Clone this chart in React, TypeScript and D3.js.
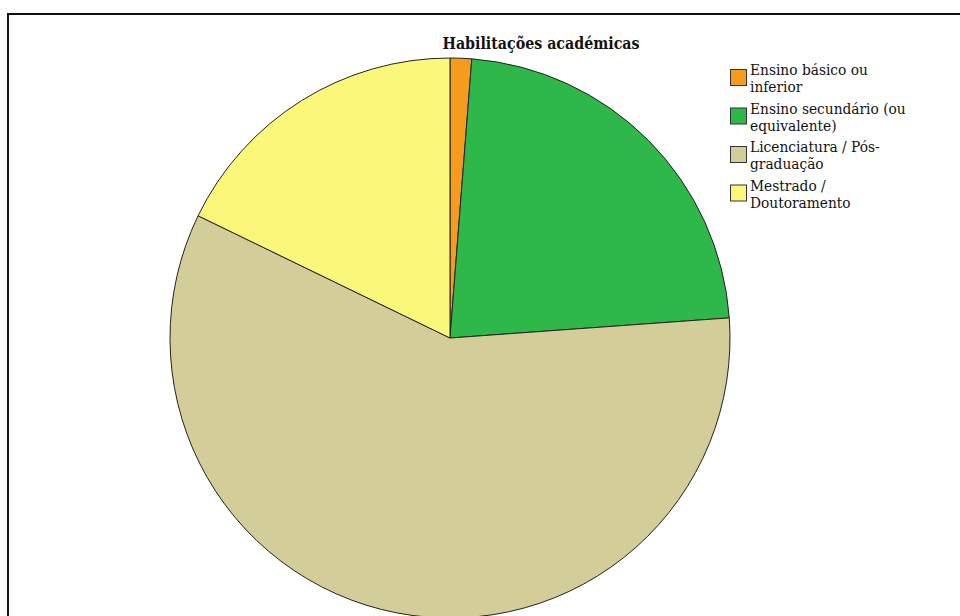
import { useEffect, useRef } from "react";
import * as d3 from "d3";

const title = "Habilitações académicas";
const categories = [
  ["Ensino básico ou", "inferior"],
  ["Ensino secundário (ou", "equivalente)"],
  ["Licenciatura / Pós-", "graduação"],
  ["Mestrado /", "Doutoramento"],
];
const shares = [1.24, 22.6, 58.3, 17.8];
const colors = ["#f79b1e", "#2fb84a", "#d3cd99", "#faf77a"];

export default function App() {
  const svgRef = useRef<SVGSVGElement>(null);

  useEffect(() => {
    if (!svgRef.current) return;
    const svg = d3.select(svgRef.current);
    svg.selectAll("*").remove();

    const width = 960;
    const height = 616;
    const cx = 450;
    const cy = 338;
    const radius = 280;
    const font = "'DejaVu Serif Condensed', 'DejaVu Serif', serif";

    svg.attr("viewBox", `0 0 ${width} ${height}`);

    // outer frame
    svg
      .append("rect")
      .attr("x", 8)
      .attr("y", 14)
      .attr("width", 1000)
      .attr("height", 700)
      .attr("fill", "white")
      .attr("stroke", "#111")
      .attr("stroke-width", 2);

    const pie = d3
      .pie<number>()
      .sort(null)
      .value((d) => d);
    const arc = d3
      .arc<d3.PieArcDatum<number>>()
      .innerRadius(0)
      .outerRadius(radius);

    svg
      .append("g")
      .attr("transform", `translate(${cx},${cy})`)
      .selectAll("path")
      .data(pie(shares))
      .enter()
      .append("path")
      .attr("d", arc)
      .attr("fill", (_, i) => colors[i])
      .attr("stroke", "#222")
      .attr("stroke-width", 1);

    svg
      .append("text")
      .attr("x", 541)
      .attr("y", 49)
      .attr("text-anchor", "middle")
      .attr("font-family", font)
      .attr("font-weight", "bold")
      .attr("font-size", "15.8px")
      .attr("fill", "#111")
      .text(title);

    const legend = svg
      .append("g")
      .selectAll("g")
      .data(categories)
      .enter()
      .append("g")
      .attr("transform", (_, i) => `translate(730,${69 + i * 38.5})`);

    legend
      .append("rect")
      .attr("x", 0.5)
      .attr("y", 0.5)
      .attr("width", 16)
      .attr("height", 16)
      .attr("fill", (_, i) => colors[i])
      .attr("stroke", "#333")
      .attr("stroke-width", 1);

    legend
      .append("text")
      .attr("font-family", font)
      .attr("font-size", "15.3px")
      .attr("fill", "#111")
      .selectAll("tspan")
      .data((d) => d)
      .enter()
      .append("tspan")
      .attr("x", 20)
      .attr("y", (_, j) => 6 + j * 17)
      .text((d) => d);
  }, []);

  return (
    <svg
      ref={svgRef}
      width={960}
      height={616}
      style={{ position: "absolute", left: 0, top: 0, display: "block" }}
    />
  );
}
